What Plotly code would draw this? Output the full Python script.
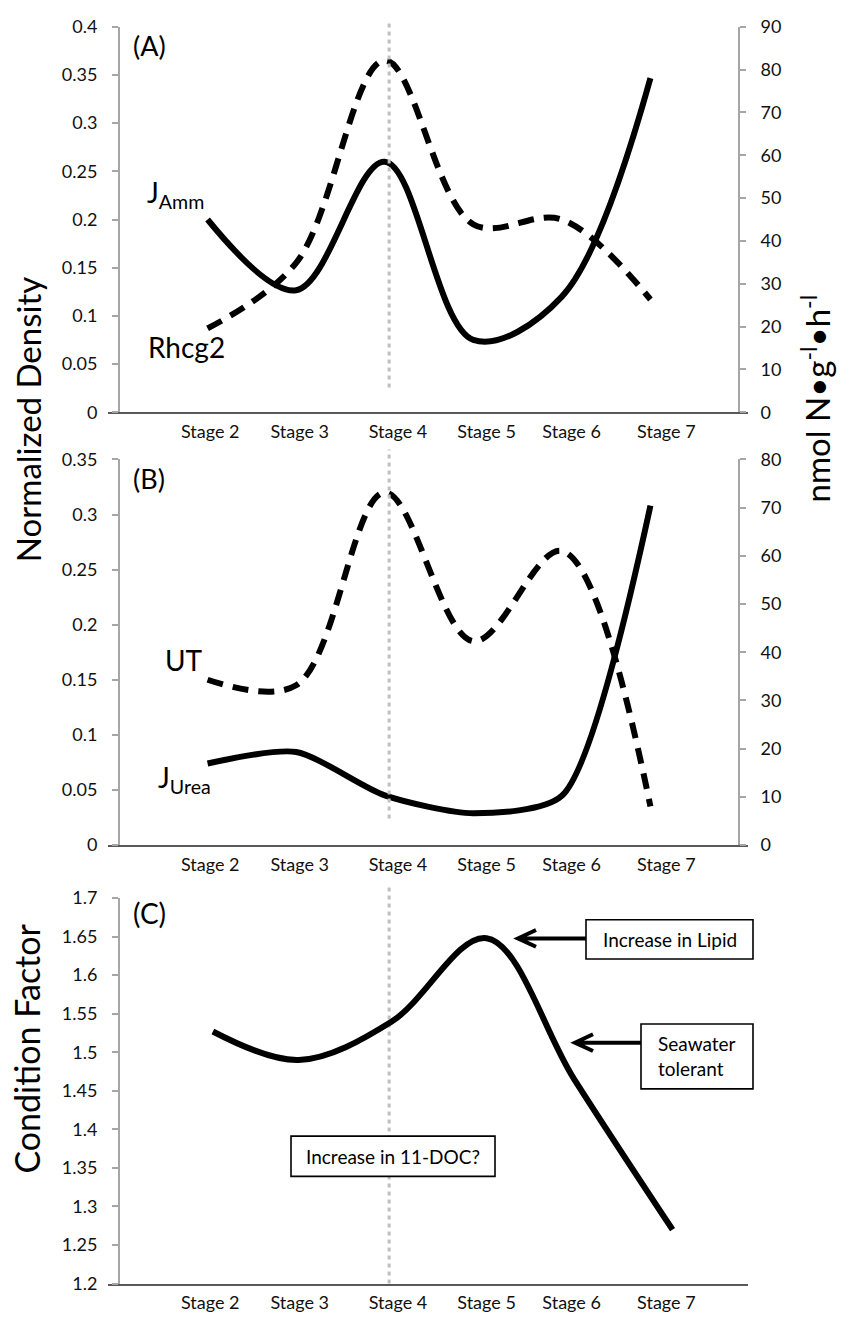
import plotly.graph_objects as go

W, H = 845, 1329

# ---- data ----
STAGES = ["Stage 2", "Stage 3", "Stage 4", "Stage 5", "Stage 6", "Stage 7"]
STAGE_TICKS = [1.03, 2.04, 3.15, 4.15, 5.11, 6.18]
STAGE4_MARK = 3.05  # dotted reference line at stage 4

# (A) ammonia
X_AB = [1, 2, 3, 4, 5, 6]
RHCG2 = [0.087, 0.155, 0.365, 0.195, 0.2, 0.117]   # normalized density (left)
J_AMM = [45, 28.5, 58.5, 16.9, 27, 78]              # nmol N/g/h (right)

# (B) urea
UT = [0.15, 0.145, 0.32, 0.185, 0.267, 0.035]       # normalized density (left)
J_UREA = [16.9, 19.3, 10.3, 6.6, 10.2, 70.4]        # nmol N/g/h (right)

# (C) condition factor
X_C = [1.06, 2.03, 3.08, 4.15, 5.14, 6.25]
COND = [1.527, 1.49, 1.54, 1.648, 1.465, 1.27]

A_LEFT = [0, 0.05, 0.1, 0.15, 0.2, 0.25, 0.3, 0.35, 0.4]
A_LEFT_TXT = ["0", "0.05", "0.1", "0.15", "0.2", "0.25", "0.3", "0.35", "0.4"]
A_RIGHT = [0, 10, 20, 30, 40, 50, 60, 70, 80, 90]
B_LEFT = [0, 0.05, 0.1, 0.15, 0.2, 0.25, 0.3, 0.35]
B_LEFT_TXT = ["0", "0.05", "0.1", "0.15", "0.2", "0.25", "0.3", "0.35"]
B_RIGHT = [0, 10, 20, 30, 40, 50, 60, 70, 80]
C_TICKS = [1.2, 1.25, 1.3, 1.35, 1.4, 1.45, 1.5, 1.55, 1.6, 1.65, 1.7]
C_TXT = ["1.2", "1.25", "1.3", "1.35", "1.4", "1.45", "1.5", "1.55", "1.6", "1.65", "1.7"]

FONT = "Lato, 'Open Sans', sans-serif"
AX_GREY = "#A6A6A6"
X_GREY = "#595959"


def P(px, py):
    """pixel -> paper coords"""
    return px / W, 1 - py / H


# plot geometry (pixels)
X_LEFT, X_RIGHT = 119, 739
X_LINE0, X_LINE1 = 108, 748
UNIT = (X_RIGHT - X_LEFT) / 7.0
XRANGE = [-(X_LEFT - X_LINE0) / UNIT, (X_LINE1 - X_LEFT) / UNIT]
XDOM = [X_LINE0 / W, X_LINE1 / W]
DOM_A = [1 - 407 / H, 1 - 15 / H]
DOM_B = [1 - 847 / H, 1 - 455 / H]
DOM_C = [1 - 1293 / H, 1 - 901 / H]

fig = go.Figure()

solid = dict(color="black", width=6, shape="spline", smoothing=1.0)
dashed = dict(color="black", width=6, dash="16px,10px", shape="spline", smoothing=1.0)

fig.add_trace(go.Scatter(x=X_AB, y=RHCG2, mode="lines", line=dashed, xaxis="x", yaxis="y"))
fig.add_trace(go.Scatter(x=X_AB, y=J_AMM, mode="lines", line=solid, xaxis="x", yaxis="y2"))
fig.add_trace(go.Scatter(x=X_AB, y=UT, mode="lines", line=dashed, xaxis="x2", yaxis="y3"))
fig.add_trace(go.Scatter(x=X_AB, y=J_UREA, mode="lines", line=dict(solid, smoothing=0.7),
                         xaxis="x2", yaxis="y4"))
fig.add_trace(go.Scatter(x=X_C, y=COND, mode="lines", line=solid, xaxis="x3", yaxis="y5"))

tickfont = dict(family=FONT, size=18, color="#111")


def xax(anchor):
    return dict(domain=XDOM, anchor=anchor, range=XRANGE, showline=True,
                linecolor=X_GREY, linewidth=2, ticks="", showgrid=False,
                zeroline=False, tickvals=STAGE_TICKS, ticktext=STAGES,
                tickfont=tickfont, ticklabelstandoff=2)


def yax(dom, rng, vals, txt, side="left", overlay=None):
    d = dict(range=rng, anchor="free", position=(X_LEFT if side == "left" else X_RIGHT) / W,
             side=side, showline=True, linecolor=AX_GREY, linewidth=2,
             ticks="outside", ticklen=6, tickwidth=1.5, tickcolor=AX_GREY,
             tickvals=vals, ticktext=txt, tickfont=tickfont, showgrid=False,
             zeroline=False, ticklabelstandoff=11)
    if overlay:
        d["overlaying"] = overlay
    else:
        d["domain"] = dom
    return d


fig.update_layout(
    xaxis=xax("y"),
    xaxis2=xax("y3"),
    xaxis3=xax("y5"),
    yaxis=yax(DOM_A, [0, 0.4], A_LEFT, A_LEFT_TXT),
    yaxis2=yax(DOM_A, [0, 90], A_RIGHT, [str(v) for v in A_RIGHT], side="right", overlay="y"),
    yaxis3=yax(DOM_B, [0, 0.35], B_LEFT, B_LEFT_TXT),
    yaxis4=yax(DOM_B, [0, 80], B_RIGHT, [str(v) for v in B_RIGHT], side="right", overlay="y3"),
    yaxis5=yax(DOM_C, [1.2, 1.7], C_TICKS, C_TXT),
)

# dotted stage-4 markers
dot = dict(color="#BFBFBF", width=3, dash="4px,4px")
fig.add_shape(type="line", xref="x", yref="y domain", x0=STAGE4_MARK, x1=STAGE4_MARK,
              y0=0.064, y1=1.013, line=dot, layer="above")
fig.add_shape(type="line", xref="x2", yref="y3 domain", x0=STAGE4_MARK, x1=STAGE4_MARK,
              y0=0.069, y1=1.026, line=dot, layer="above")
fig.add_shape(type="line", xref="x3", yref="y5 domain", x0=STAGE4_MARK, x1=STAGE4_MARK,
              y0=0.0, y1=1.03, line=dot, layer="below")


# callout boxes and arrows in panel C
def rect(x0, y0, x1, y1):
    a, b = P(x0, y0)
    c, d = P(x1, y1)
    fig.add_shape(type="rect", xref="paper", yref="paper", x0=a, x1=c, y0=d, y1=b,
                  line=dict(color="black", width=1.6), fillcolor="white", layer="above")


def arrow(x_tail, x_tip, y, arm=18, spread=8.5):
    xt, yt = P(x_tail, y)
    xh, yh = P(x_tip, y)
    xa, ya1 = P(x_tip + arm, y - spread)
    _, ya2 = P(x_tip + arm, y + spread)
    path = f"M {xt},{yt} L {xh + 2 / W},{yh} M {xa},{ya1} L {xh},{yh} L {xa},{ya2}"
    fig.add_shape(type="path", xref="paper", yref="paper", path=path,
                  line=dict(color="black", width=4))


rect(586, 923, 753, 963)
rect(641, 1029, 753, 1095)
rect(291, 1143, 495, 1184)
arrow(586, 518, 942)
arrow(641, 575, 1048)

ann = []


def label(text, px, py, size=28, xanchor="left", **kw):
    x, y = P(px, py)
    d = dict(text=text, x=x, y=y, xref="paper", yref="paper", showarrow=False,
             xanchor=xanchor, yanchor="middle", font=dict(family=FONT, size=size, color="black"))
    d.update(kw)
    ann.append(d)


label("(A)", 131, 34, size=27)
label("(B)", 131, 474, size=27)
label("(C)", 131, 916, size=28)
label("J<sub>Amm</sub>", 145, 185, size=28)
label("Rhcg2", 146, 341, size=28)
label("UT", 163, 659, size=28)
label("J<sub>Urea</sub>", 156, 780, size=28)

label("Normalized Density", 28, 415, size=33, xanchor="center", textangle=-90)
label("Condition Factor", 27, 1054, size=34, xanchor="center", textangle=-90)
label("nmol N\u2022g<sup>-l</sup>\u2022h<sup>-l</sup>", 816, 393, size=33,
      xanchor="center", textangle=-90)

label("Increase in Lipid", 669.5, 943, size=19, xanchor="center")
label("Seawater<br>tolerant", 656, 1062, size=19, xanchor="left", align="left")
label("Increase in 11-DOC?", 393, 1164, size=19, xanchor="center")

fig.update_layout(
    annotations=ann,
    width=W, height=H,
    margin=dict(l=0, r=0, t=0, b=0),
    paper_bgcolor="white", plot_bgcolor="white",
    showlegend=False,
    font=dict(family=FONT, color="black"),
)

fig.write_html("out.html", config={"displayModeBar": False},
               post_script="document.body.style.margin='0px';")
